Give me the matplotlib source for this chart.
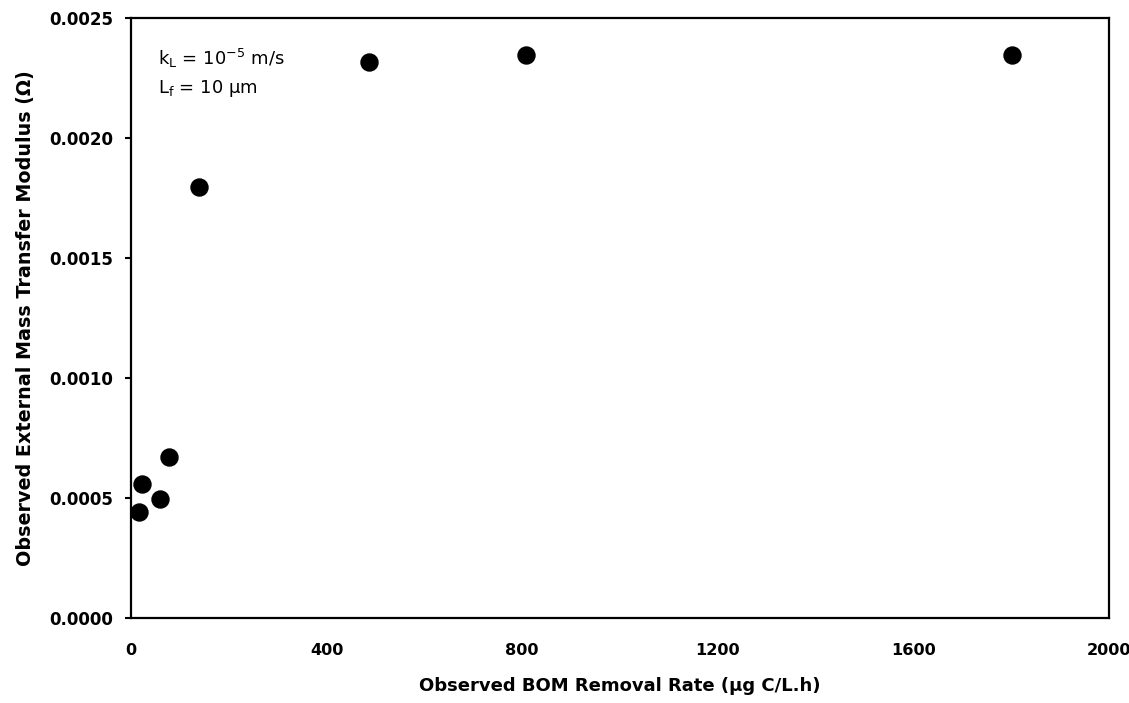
import matplotlib.pyplot as plt
import numpy as np

removalRate = [16, 22, 59, 78, 139, 487, 808, 1802]
massTransferModulus = [0.000442, 0.000558, 0.000496, 0.000671, 0.001796, 0.002317, 0.002346, 0.002346]

xTicks = [0, 400, 800, 1200, 1600, 2000]
yTicks = [0.0000, 0.0005, 0.0010, 0.0015, 0.0020, 0.0025]

plt.rcParams['font.family'] = 'DejaVu Sans'
plt.rcParams['mathtext.default'] = 'regular'

fig = plt.figure(figsize=(11.29, 7.03), dpi=100)
ax = fig.add_axes([0.116, 0.121, 0.866, 0.853])

ax.scatter(removalRate, massTransferModulus, s=150, color='black', zorder=3)

ax.set_xlim(0, 2000)
ax.set_ylim(0, 0.0025)
ax.set_xticks(xTicks)
ax.set_yticks(yTicks)
ax.set_xticklabels([str(t) for t in xTicks], fontsize=11.6, fontweight='bold')
ax.set_yticklabels(["%.4f" % t for t in yTicks], fontsize=12, fontweight='bold')
ax.tick_params(axis='y', direction='out', length=4, width=1.5, pad=9)
ax.tick_params(axis='x', direction='out', length=0, pad=18)

for side in ax.spines.values():
    side.set_linewidth(1.6)

ax.set_xlabel("Observed BOM Removal Rate (\u03bcg C/L.h)", fontsize=13, fontweight='bold', labelpad=14)
ax.set_ylabel("Observed External Mass Transfer Modulus (\u03a9)", fontsize=13.8, fontweight='bold', labelpad=10)

ax.text(0.028, 0.933, r"k$_{L}$ = 10$^{-5}$ m/s", transform=ax.transAxes, fontsize=13, va='center')
ax.text(0.028, 0.883, r"L$_{f}$ = 10 $\mu$m", transform=ax.transAxes, fontsize=13, va='center')

plt.savefig("out.png", dpi=100)
